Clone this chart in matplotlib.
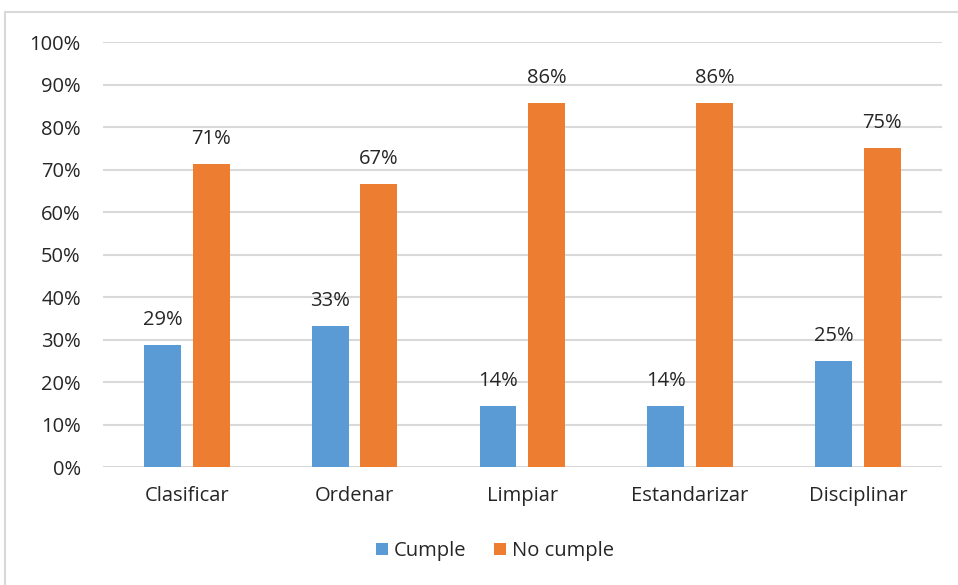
import matplotlib.pyplot as plt
from matplotlib.patches import Rectangle
import numpy as np

categorias = ['Clasificar', 'Ordenar', 'Limpiar', 'Estandarizar', 'Disciplinar']
cumple = [28.6, 33.3, 14.3, 14.3, 25.0]
no_cumple = [71.4, 66.7, 85.7, 85.7, 75.0]
ticks_y = [0, 10, 20, 30, 40, 50, 60, 70, 80, 90, 100]

plt.rcParams['font.family'] = ['Open Sans', 'DejaVu Sans']
texto = '#262626'
fs = 14.5

fig = plt.figure(figsize=(9.58, 5.85), dpi=100)
ax = fig.add_axes([0.1075, 0.2017, 0.8755, 0.7263])

# borde del grafico
fig.patches.append(Rectangle((5 / 958, -0.01), 1.0, 1 - 12 / 585 + 0.01,
                             transform=fig.transFigure, fill=False,
                             edgecolor='#D9D9D9', linewidth=1.5))

x = np.arange(len(categorias))
ancho = 0.22
desp = 0.145
b1 = ax.bar(x - desp, cumple, ancho, color='#5B9BD5', label='Cumple', zorder=3)
b2 = ax.bar(x + desp, no_cumple, ancho, color='#ED7D31', label='No cumple', zorder=3)

for barras, vals in ((b1, cumple), (b2, no_cumple)):
    for b, v in zip(barras, vals):
        ax.annotate('{:.0f}%'.format(v), (b.get_x() + b.get_width() / 2, v),
                    xytext=(0, 18), textcoords='offset points',
                    ha='center', va='center', fontsize=fs, color=texto)

ax.set_xlim(-0.5, len(categorias) - 0.5)
ax.set_ylim(0, 100)
ax.set_yticks(ticks_y)
ax.set_yticklabels(['{}%'.format(t) for t in ticks_y])
ax.set_xticks(x)
ax.set_xticklabels(categorias)
ax.tick_params(axis='both', length=0, labelsize=fs, colors=texto)
ax.tick_params(axis='x', pad=14)
ax.tick_params(axis='y', pad=16)

ax.yaxis.grid(True, color='#D9D9D9', linewidth=1.5, zorder=0)
for s in ax.spines.values():
    s.set_visible(False)

fig.legend(handles=[b1, b2], loc='center', bbox_to_anchor=(495 / 958, 1 - 551 / 585),
           ncol=2, frameon=False, fontsize=fs, handlelength=0.6, handleheight=0.6,
           handletextpad=0.3, columnspacing=1.4, labelcolor=texto)

plt.savefig('out.png')
